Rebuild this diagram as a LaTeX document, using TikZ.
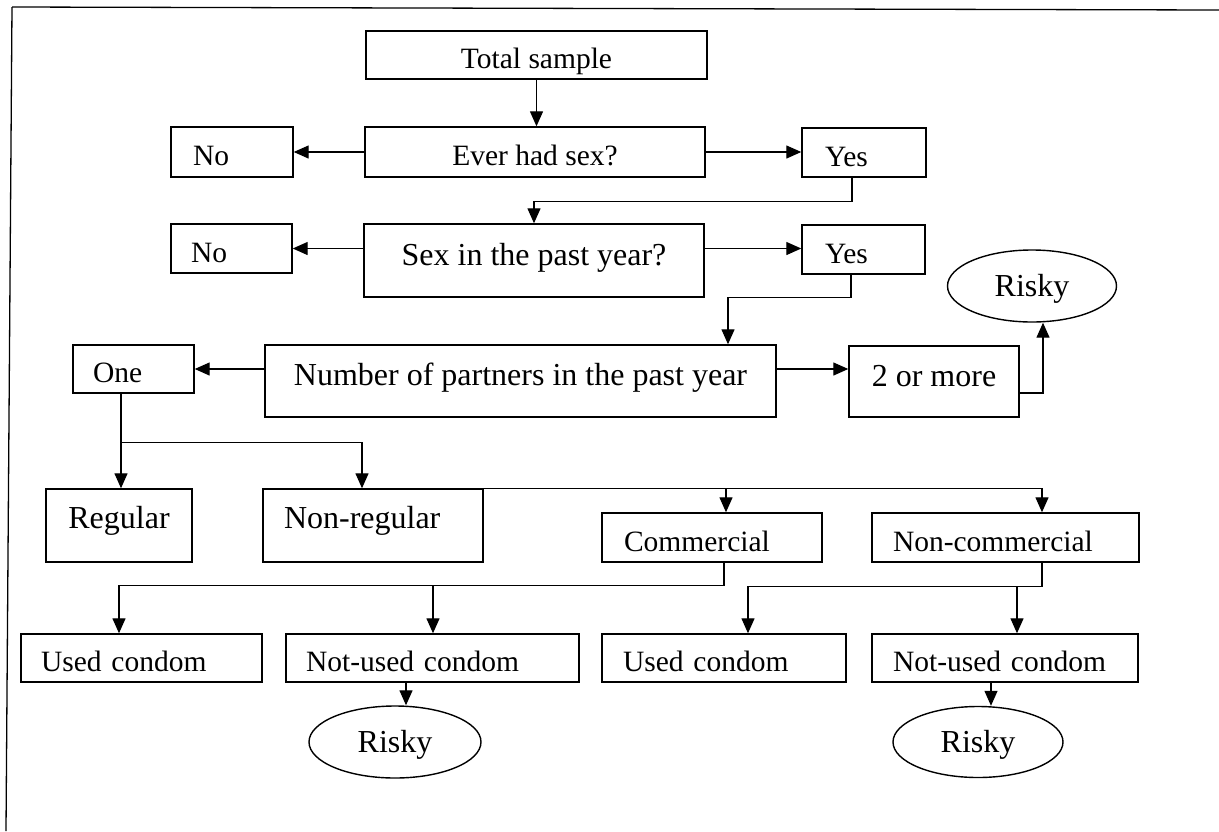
\documentclass[tikz,border=0pt]{standalone}
\usepackage{fontspec}
\setmainfont{Liberation Serif}
\usetikzlibrary{arrows.meta,shapes.geometric}
\tikzset{
  base/.style={draw, line width=1.4pt, inner sep=0pt, font=\fontsize{29.5}{34}\selectfont, text height=27.5pt, text depth=0pt},
  cbox/.style={base, align=center},
  lbox/.style n args={3}{base, minimum width=#1pt, text width=#3pt, inner xsep=#2pt, align=left},
  bigfont/.style={font=\fontsize{32}{38}\selectfont, text height=21pt, text depth=12pt},
  riskybox/.style={base, ellipse, font=\fontsize{32}{38}\selectfont, text height=21pt, text depth=0pt},
  arr/.style={line width=1.3pt, -{Triangle[length=15pt,width=13pt]}},
  ln/.style={line width=1.3pt},
}
\begin{document}
\begin{tikzpicture}[x=1pt,y=-1pt]
\useasboundingbox (0,0) rectangle (1219,831);
% frame
\draw[ln] (12,7) -- (1219,10);
\draw[ln] (12,7) -- (6,831);
% nodes
\node[cbox, minimum width=341pt, minimum height=48pt] (total) at (536.5,55) {Total sample};
\node[cbox, minimum width=340pt, minimum height=50pt] (ever) at (535,152) {Ever had sex?};
\node[lbox={122}{22}{78}, minimum height=50pt] (no1) at (232,152) {No};
\node[lbox={124}{23}{78}, minimum height=49pt] (yes1) at (864,152.5) {Yes};
\node[cbox, bigfont, minimum width=340pt, minimum height=73pt] (sex) at (534,260.5) {Sex in the past year?};
\node[lbox={121}{20}{81}, minimum height=49pt] (no2) at (231.5,248.5) {No};
\node[lbox={123}{23}{77}, minimum height=49pt] (yes2) at (863.5,249.5) {Yes};
\node[cbox, bigfont, minimum width=511pt, minimum height=72pt] (num) at (520.5,381) {Number of partners in the past year};
\node[lbox={121}{20}{81}, minimum height=48pt] (one) at (133.5,369) {One};
\node[cbox, bigfont, minimum width=170pt, minimum height=71pt] (more) at (934,381.5) {2 or more};
\node[riskybox, minimum width=169pt, minimum height=72pt] (risky0) at (1032,286) {Risky};
\node[cbox, bigfont, minimum width=146pt, minimum height=73pt, text depth=15pt] (regular) at (119,525.5) {Regular};
\node[lbox={220}{21}{178}, bigfont, minimum height=73pt, text depth=15pt] (nonreg) at (373,525.5) {Non-regular};
\node[lbox={220}{22}{176}, minimum height=49pt] (comm) at (712,537.5) {Commercial};
\node[lbox={267}{21}{225}, minimum height=49pt] (noncomm) at (1005.5,537.5) {Non-commercial};
\node[lbox={241}{20}{201}, minimum height=48pt] (used1) at (141.5,658) {Used condom};
\node[lbox={293}{20}{253}, minimum height=48pt] (notused1) at (432.5,658) {Not-used condom};
\node[lbox={244}{21}{202}, minimum height=48pt] (used2) at (724,658) {Used condom};
\node[lbox={266}{21}{224}, minimum height=48pt] (notused2) at (1005,658) {Not-used condom};
\node[riskybox, minimum width=172pt, minimum height=72pt] (risky1) at (395,742) {Risky};
\node[riskybox, minimum width=170pt, minimum height=71pt] (risky2) at (978,742) {Risky};
% connectors
\draw[arr] (total.south) -- (total.south |- ever.north);
\draw[arr] (ever.west) -- (no1.east);
\draw[arr] (ever.east) -- (yes1.west |- ever.east);
\draw[arr] ([xshift=-12pt]yes1.south) -- ++(0,-24pt) -| (sex.north);
\draw[arr] ([yshift=12pt]sex.west) -- (no2.east);
\draw[arr] ([yshift=12pt]sex.east) -- ([yshift=12pt]sex.east -| yes2.west);
\draw[arr] ([xshift=-12.5pt]yes2.south) -- ++(0,-23pt) -| ([xshift=207.5pt]num.north);
\draw[arr] ([yshift=12pt]num.west) -- (one.east);
\draw[arr] ([yshift=12pt]num.east) -- ([yshift=12.5pt]more.west);
\draw[arr] ([yshift=-11.5pt]more.east) -| ([xshift=11pt]risky0.south);
\draw[ln] ([xshift=-12.5pt]one.south) -- ++(0,-49pt) coordinate (j1);
\draw[arr] (j1) -- (j1 |- regular.north);
\draw[arr] (j1) -| ([xshift=-11pt]nonreg.north);
\draw[arr] (nonreg.north east) -| ([xshift=14pt]comm.north);
\draw[arr] (nonreg.north east) -| ([xshift=36.5pt]noncomm.north);
\draw[ln] ([xshift=12pt]comm.south) -- ++(0,-23pt) coordinate (j2);
\draw[arr] (j2) -| ([xshift=-22.5pt]used1.north);
\draw[arr] (j2) -| ([xshift=0.5pt]notused1.north);
\draw[ln] ([xshift=36.5pt]noncomm.south) -- ++(0,-24pt) coordinate (j3);
\draw[arr] (j3) -| ([xshift=24pt]used2.north);
\draw[arr] (j3) -| ([xshift=12pt]notused2.north);
\draw[arr] ([xshift=-26.5pt]notused1.south) -- ([xshift=11pt]risky1.north);
\draw[arr] ([xshift=-14pt]notused2.south) -- ([xshift=13pt]risky2.north);
\end{tikzpicture}
\end{document}
